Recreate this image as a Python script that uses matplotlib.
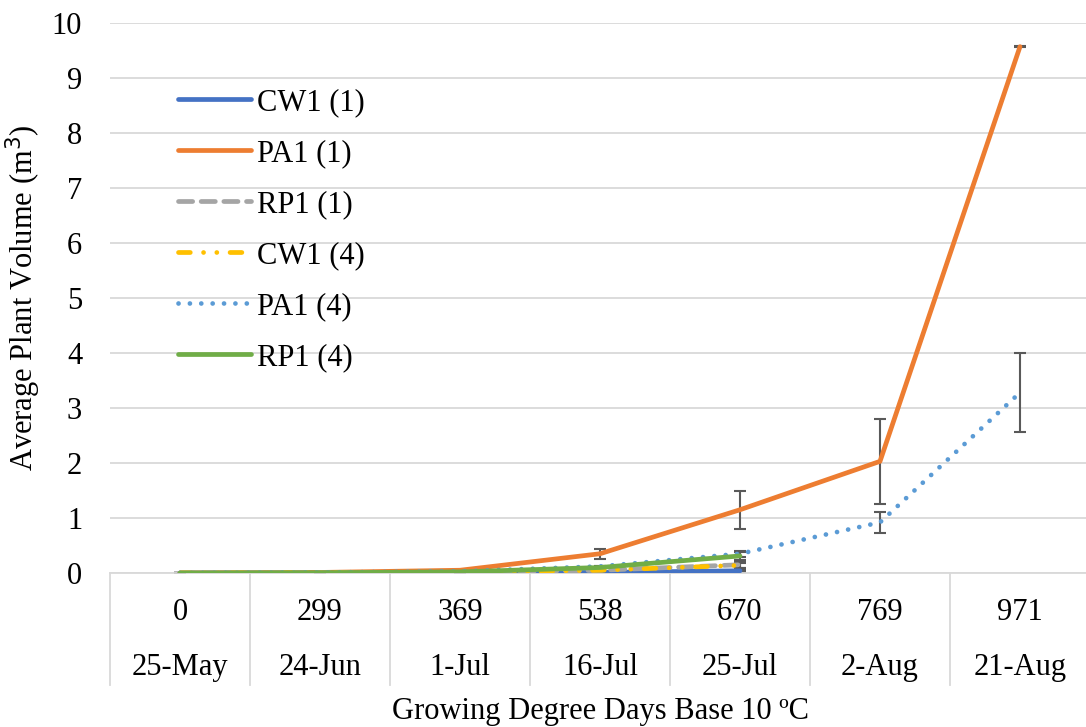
import numpy as np
import matplotlib.pyplot as plt
from matplotlib.transforms import blended_transform_factory

plt.rcParams['font.family'] = ['Liberation Serif', 'DejaVu Serif']

# Category labels (two-level axis)
gdd = ["0", "299", "369", "538", "670", "769", "971"]
dates = ["25-May", "24-Jun", "1-Jul", "16-Jul", "25-Jul", "2-Aug", "21-Aug"]

# Series values (m^3)
cw1_1 = [0.0, 0.002, 0.005, 0.01, 0.04]
pa1_1 = [0.0, 0.01, 0.05, 0.35, 1.15, 2.03, 9.57]
rp1_1 = [0.0, 0.003, 0.01, 0.05, 0.15]
cw1_4 = [0.0, 0.002, 0.008, 0.05, 0.14]
pa1_4 = [0.0, 0.01, 0.03, 0.12, 0.35, 0.92, 3.28]
rp1_4 = [0.0, 0.005, 0.02, 0.10, 0.31]

# Error bar half-widths
cw1_1_err = [0, 0, 0, 0, 0.02]
pa1_1_err = [0, 0, 0, 0.09, 0.35, 0.77, 0.01]
rp1_1_err = [0, 0, 0, 0, 0.05]
cw1_4_err = [0, 0, 0, 0, 0.04]
pa1_4_err = [0, 0, 0, 0, 0.05, 0.19, 0.72]
rp1_4_err = [0, 0, 0, 0, 0.08]

series = [
    ("CW1 (1)", cw1_1, cw1_1_err, "#4472C4", "-"),
    ("PA1 (1)", pa1_1, pa1_1_err, "#ED7D31", "-"),
    ("RP1 (1)", rp1_1, rp1_1_err, "#A5A5A5", (0, (3, 1.8))),
    ("CW1 (4)", cw1_4, cw1_4_err, "#FFC000", (0, (2.5, 2.8, 0.01, 2.8, 0.01, 2.8))),
    ("PA1 (4)", pa1_4, pa1_4_err, "#5B9BD5", (0, (0.01, 2.4))),
    ("RP1 (4)", rp1_4, rp1_4_err, "#70AD47", "-"),
]

FS = 22

fig = plt.figure(figsize=(10.86, 7.27), dpi=100)
ax = fig.add_axes([110 / 1086, 154 / 727, 980 / 1086, 550 / 727])

for name, vals, err, color, ls in series:
    x = np.arange(len(vals))
    ax.errorbar(x, vals, yerr=err, fmt="none", ecolor="#595959", elinewidth=1.5,
                capsize=4.5, capthick=1.5, zorder=2)
for name, vals, err, color, ls in series:
    x = np.arange(len(vals))
    ax.plot(x, vals, color=color, linestyle=ls, linewidth=3.4, label=name,
            solid_capstyle="round", dash_capstyle="round", zorder=3)

ax.set_xlim(-0.5, len(gdd) - 0.5)
ax.set_ylim(0, 10)
ax.set_yticks(range(0, 11))
ax.tick_params(axis="y", length=0, pad=20, labelsize=FS)
ax.set_xticks([])
ax.grid(axis="y", color="#D9D9D9", linewidth=1.3)
ax.set_axisbelow(True)
for s in ["top", "right", "left"]:
    ax.spines[s].set_visible(False)
ax.spines["bottom"].set_color("#D9D9D9")
ax.spines["bottom"].set_linewidth(1.3)

# two-level category axis
trans = blended_transform_factory(ax.transData, ax.transAxes)
for i, (g, d) in enumerate(zip(gdd, dates)):
    ax.text(i, -0.072, g, transform=trans, ha="center", va="center", fontsize=FS)
    ax.text(i, -0.171, d, transform=trans, ha="center", va="center", fontsize=FS)
for b in np.arange(-0.5, len(gdd), 1.0):
    ax.plot([b, b], [0, -0.204], transform=trans, color="#D9D9D9", linewidth=1.3,
            clip_on=False)

ax.set_ylabel("Average Plant Volume (m$^3$)", fontsize=FS)
ax.yaxis.set_label_coords(-0.068, 0.5)
fig.text(600 / 1086, 1 - 712 / 727, "Growing Degree Days Base 10 ºC",
         ha="center", va="center", fontsize=FS)

ax.legend(loc="upper left", bbox_to_anchor=(178 / 1086, 1 - 88 / 727),
          bbox_transform=fig.transFigure, frameon=False, fontsize=FS,
          handlelength=2.4, handletextpad=0.2, labelspacing=0.72,
          borderpad=0, borderaxespad=0)

fig.savefig("out.png", dpi=100)
